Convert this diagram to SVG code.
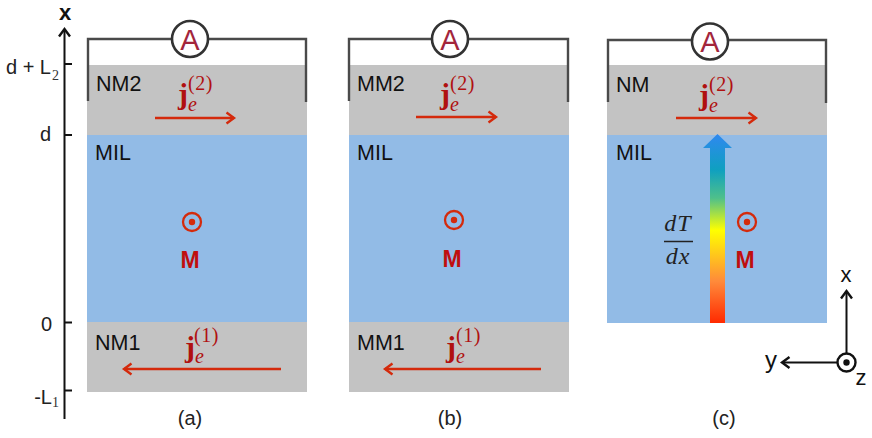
<svg xmlns="http://www.w3.org/2000/svg" width="872" height="438" viewBox="0 0 872 438">
<style>
text{font-family:"Liberation Sans",Arial,sans-serif;fill:#111}
.lbl{font-size:21.500px}
.cap{font-size:20px;text-anchor:middle;fill:#222}
.nm{fill:#c3c3c3}
.mil{fill:#92bbe6}
.wire{fill:none;stroke:#4a4a4a;stroke-width:2.4}
.amm{fill:#fff;stroke:#333;stroke-width:2.6}
.ammt{font-size:29px;text-anchor:middle;fill:#a3263c}
.cur{fill:none;stroke:#d42a0c;stroke-width:2.5}
.j{font-family:"Liberation Serif",serif;font-weight:bold;font-size:30px;fill:#b01010}
.e{font-family:"Liberation Serif",serif;font-style:italic;font-size:20px;fill:#b01010}
.sup{font-family:"Liberation Serif",serif;font-size:20px;letter-spacing:.6px;fill:#b01010}
.m{font-size:23px;font-weight:bold;fill:#c00e0e;text-anchor:middle}
.ring{fill:none;stroke:#d42a0c;stroke-width:2.300}
.dot{fill:#d42a0c}
.ax{fill:none;stroke:#111;stroke-width:2}
.tick{font-size:20px;text-anchor:end;fill:#222}
.sub{font-family:"Liberation Serif",serif;font-size:14px;fill:#333}
.math{font-family:"Liberation Serif",serif;font-style:italic;font-size:24px;letter-spacing:1px;text-anchor:middle;fill:#222}
</style>
<defs>
<linearGradient id="heat" x1="0" y1="1" x2="0" y2="0">
<stop offset="0" stop-color="#ff2a00"/>
<stop offset="0.22" stop-color="#ff8a3a"/>
<stop offset="0.49" stop-color="#ffff00"/>
<stop offset="0.66" stop-color="#4fc08a"/>
<stop offset="0.81" stop-color="#0fa0c0"/>
<stop offset="1" stop-color="#2f88f0"/>
</linearGradient>
<marker id="open" markerUnits="userSpaceOnUse" markerWidth="14" markerHeight="16" refX="11" refY="8" orient="auto">
<path d="M3.500 2.500L11 8L3.500 13.500" fill="none" stroke="context-stroke" stroke-width="2.400"/>
</marker>
</defs>

<g id="axis-x">
<path class="ax" d="M64.500 419V29" marker-end="url(#open)"/>
<path class="ax" d="M65 64H72M65 135H72M65 322.500H72M65 390.500H72"/>
<text x="65" y="20" text-anchor="middle" font-size="22" font-weight="bold">x</text>
<text class="tick" x="51" y="74">d + L</text><text class="sub" x="52" y="80">2</text>
<text class="tick" x="51" y="141">d</text>
<text class="tick" x="52" y="331">0</text>
<text class="tick" x="52" y="404">-L</text><text class="sub" x="52" y="407">1</text>
</g>

<g id="panel-a">
<rect class="nm" x="87" y="65" width="220" height="70"/>
<rect class="mil" x="87" y="135" width="220" height="187"/>
<rect class="nm" x="87" y="322" width="220" height="70"/>
<path class="wire" d="M88 101V39H306V102"/>
<circle class="amm" cx="190" cy="39" r="18"/>
<text class="ammt" x="190" y="49.500">A</text>
<text class="lbl" x="96" y="91">NM2</text>
<text class="lbl" x="95" y="160">MIL</text>
<text class="lbl" x="95" y="350">NM1</text>
<text class="j" x="178" y="104">j</text><text class="e" x="188" y="111">e</text><text class="sup" x="188" y="90">(2)</text>
<path class="cur" d="M155 118H234" marker-end="url(#open)"/>
<circle class="ring" cx="192" cy="222" r="9"/><circle class="dot" cx="192" cy="222" r="3.200"/>
<text class="m" x="190" y="268">M</text>
<text class="j" x="185" y="357">j</text><text class="e" x="195" y="363">e</text><text class="sup" x="194" y="342">(1)</text>
<path class="cur" d="M281 369H124" marker-end="url(#open)"/>
<text class="cap" x="190" y="425">(a)</text>
</g>

<g id="panel-b">
<rect class="nm" x="349" y="65" width="220" height="70"/>
<rect class="mil" x="349" y="135" width="220" height="187"/>
<rect class="nm" x="349" y="322" width="220" height="70"/>
<path class="wire" d="M349 101V39H568V102"/>
<circle class="amm" cx="450" cy="39" r="18"/>
<text class="ammt" x="450" y="49.500">A</text>
<text class="lbl" x="357" y="91">MM2</text>
<text class="lbl" x="357" y="160">MIL</text>
<text class="lbl" x="357" y="350">MM1</text>
<text class="j" x="440" y="104">j</text><text class="e" x="450" y="111">e</text><text class="sup" x="450" y="90">(2)</text>
<path class="cur" d="M416 117H496" marker-end="url(#open)"/>
<circle class="ring" cx="454" cy="220" r="9"/><circle class="dot" cx="454" cy="220" r="3.200"/>
<text class="m" x="452" y="267">M</text>
<text class="j" x="446" y="357">j</text><text class="e" x="456" y="363">e</text><text class="sup" x="456" y="342">(1)</text>
<path class="cur" d="M541 369H385" marker-end="url(#open)"/>
<text class="cap" x="450" y="425">(b)</text>
</g>

<g id="panel-c">
<rect class="nm" x="607" y="65" width="220" height="70"/>
<rect class="mil" x="607" y="135" width="220" height="188"/>
<path class="wire" d="M608 102V40H826V103"/>
<circle class="amm" cx="710" cy="41.500" r="18"/>
<text class="ammt" x="710" y="52">A</text>
<text class="lbl" x="616" y="92">NM</text>
<text class="lbl" x="616" y="160">MIL</text>
<text class="j" x="699" y="105">j</text><text class="e" x="709" y="112">e</text><text class="sup" x="709" y="91">(2)</text>
<path class="cur" d="M676 118H756" marker-end="url(#open)"/>
<path id="gradient-arrow" d="M710 323V148H703L717.500 134L732 148H725V323Z" fill="url(#heat)"/>
<text class="math" x="678" y="231">dT</text>
<path d="M664 241.500H693" stroke="#222" stroke-width="1.500"/>
<text class="math" x="678" y="264">dx</text>
<circle class="ring" cx="747" cy="222" r="9"/><circle class="dot" cx="747" cy="222" r="3.200"/>
<text class="m" x="745" y="268">M</text>
<text class="cap" x="724" y="425">(c)</text>
</g>

<g id="triad">
<path class="ax" d="M846.500 353V291" marker-end="url(#open)"/>
<path class="ax" d="M837 362.500H782" marker-end="url(#open)"/>
<circle cx="846.500" cy="362.500" r="9" fill="none" stroke="#111" stroke-width="2.400"/>
<circle cx="846.500" cy="362.500" r="3.200" fill="#111"/>
<text x="846" y="282" text-anchor="middle" font-size="22">x</text>
<text x="771" y="368" text-anchor="middle" font-size="24">y</text>
<text x="861" y="385" text-anchor="middle" font-size="22">z</text>
</g>
</svg>
